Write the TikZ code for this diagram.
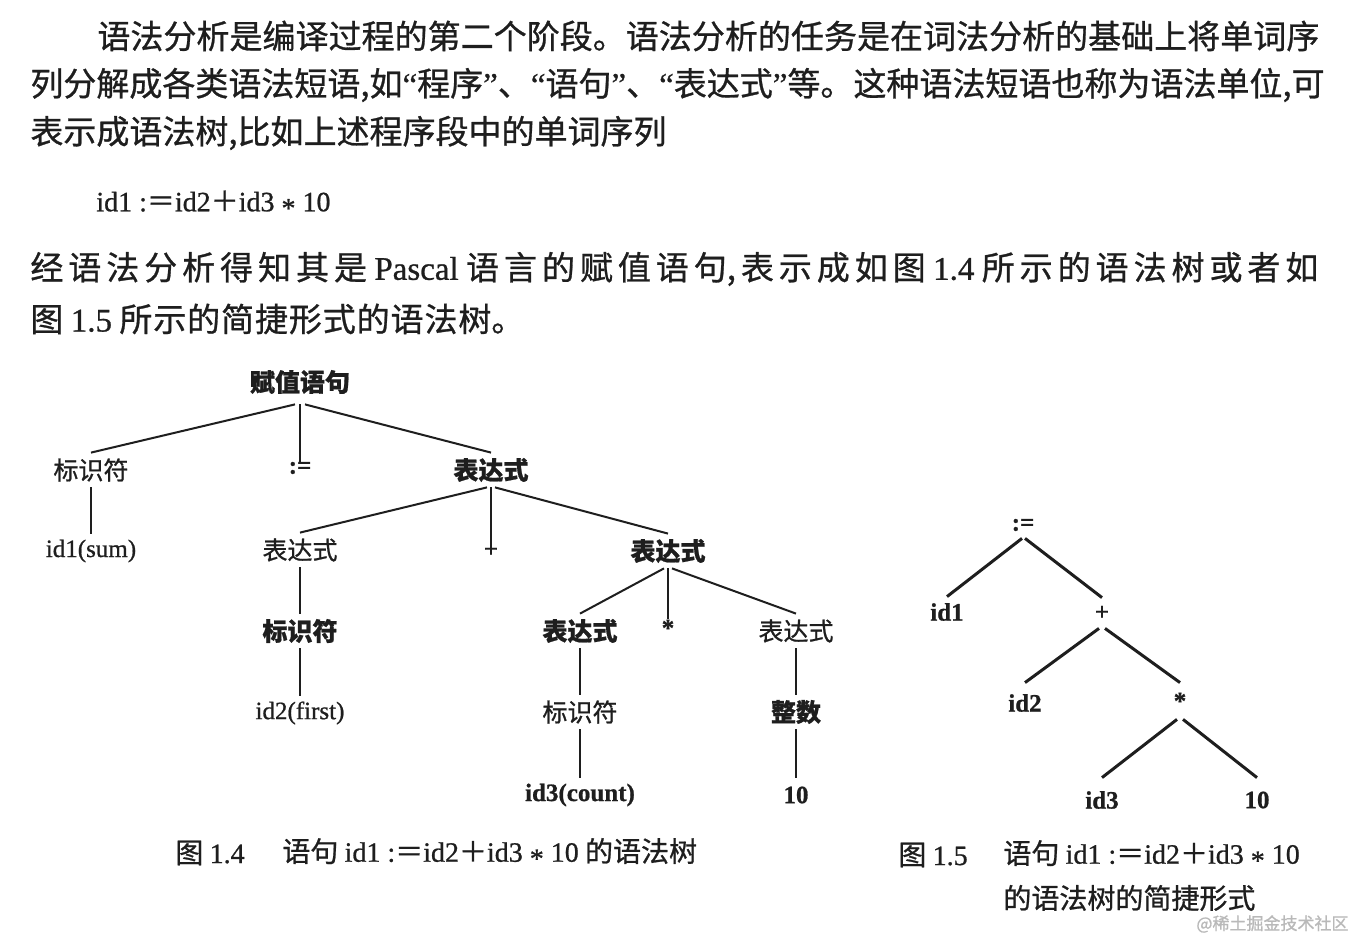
\documentclass[tikz,border=0pt]{standalone}
\usepackage{fontspec}
\setmainfont{Noto Sans CJK SC}[RawFeature={embolden=0.8}]
\newfontfamily\lat{Liberation Serif}[RawFeature={embolden=0.8}]
\definecolor{ink}{HTML}{1E1E1E}
\newcommand\jline[2]{\parbox{#1}{\XeTeXlinebreaklocale "zh"\XeTeXlinebreakskip=0pt plus 1fil\XeTeXlinebreakpenalty=10000\parfillskip=0pt\parindent=0pt\leftskip=0pt\rightskip=0pt #2}}
\newcommand\asgn{{\lat id1 :}＝{\lat id2}＋{\lat id3 \raisebox{-0.22em}{*} 10}}
\tikzset{
  body/.style={anchor=west,inner sep=0pt,text=ink,font=\fontsize{16.5}{20}\selectfont},
  tlab/.style={inner sep=0pt,text=ink,minimum height=17pt,font=\fontsize{12.5}{15}\selectfont},
  tlabb/.style={tlab,font=\fontsize{12.5}{15}\selectfont\bfseries},
  tlat/.style={tlab,font=\lat\fontsize{12.5}{15}\selectfont},
  tlatb/.style={tlab,font=\lat\bfseries\fontsize{12.5}{15}\selectfont},
  tops/.style={tlatb,minimum height=5pt},
  slab/.style={inner sep=0pt,text=ink,font=\lat\bfseries\fontsize{12.5}{14}\selectfont},
  edgea/.style={draw=ink,line width=1pt},
  edgeb/.style={draw=ink,line width=1.5pt},
  captxt/.style={anchor=west,inner sep=0pt,text=ink,font=\fontsize{14}{16}\selectfont},
}
\begin{document}
\begin{tikzpicture}[x=0.5pt,y=-0.5pt]
\fill[white] (0,0) rectangle (1355,935);
\useasboundingbox (0,0) rectangle (1355,935);

% body text
\node[body] (l1) at (97,36) {\jline{611pt}{语法分析是编译过程的第二个阶段。语法分析的任务是在词法分析的基础上将单词序}};
\node[body] (l2) at (30,85) {\jline{644pt}{列分解成各类语法短语,如{\lat “}程序{\lat ”}、{\lat “}语句{\lat ”}、{\lat “}表达式{\lat ”}等。这种语法短语也称为语法单位,可}};
\node[body] (l3) at (30,133) {表示成语法树,比如上述程序段中的单词序列};
\node[body,font=\fontsize{14}{16}\selectfont] (l4) at (96,204) {\asgn};
\node[body] (l5) at (30,269) {\jline{644pt}{经语法分析得知其是~{\lat Pascal}~语言的赋值语句,表示成如图~{\lat 1.4}~所示的语法树或者如}};
\node[body] (l6) at (30,319) {\jline{247pt}{图~{\lat 1.5}~所示的简捷形式的语法树。}};

% figure 1.4
\node[tlabb,minimum height=22pt] (fz) at (300,382) {赋值语句};
\node[tlab] (bs1) at (91,470) {标识符};
\node[tops] (as) at (300,468) {:=};
\node[tlabb] (bd1) at (491,470) {表达式};
\node[tlat] (id1) at (91,551) {id1(sum)};
\node[tlab] (bd2) at (300,550) {表达式};
\node[tops] (pl) at (491,550) {+};
\node[tlabb] (bd3) at (668,551) {表达式};
\node[tlabb] (bs2) at (300,631) {标识符};
\node[tlabb] (bd4) at (580,631) {表达式};
\node[tops] (ml) at (668,628) {*};
\node[tlab] (bd5) at (796,631) {表达式};
\node[tlat] (id2) at (300,713) {id2(first)};
\node[tlab] (bs3) at (580,712) {标识符};
\node[tlabb] (zs) at (796,712) {整数};
\node[tlatb] (id3) at (580,795) {id3(count)};
\node[tlatb] (ten) at (796,795) {10};

\draw[edgea] ([xshift=-2.5pt]fz.south) -- (bs1.north);
\draw[edgea] (fz.south) -- (as.north);
\draw[edgea] ([xshift=2.5pt]fz.south) -- (bd1.north);
\draw[edgea] (bs1.south) -- (id1.north);
\draw[edgea] ([xshift=-2pt]bd1.south) -- (bd2.north);
\draw[edgea] (bd1.south) -- (pl.north);
\draw[edgea] ([xshift=2pt]bd1.south) -- (bd3.north);
\draw[edgea] (bd2.south) -- (bs2.north);
\draw[edgea] (bs2.south) -- (id2.north);
\draw[edgea] ([xshift=-2pt]bd3.south) -- (bd4.north);
\draw[edgea] (bd3.south) -- (ml.north);
\draw[edgea] ([xshift=2pt]bd3.south) -- (bd5.north);
\draw[edgea] (bd4.south) -- (bs3.north);
\draw[edgea] (bs3.south) -- (id3.north);
\draw[edgea] (bd5.south) -- (zs.north);
\draw[edgea] (zs.south) -- (ten.north);

\node[captxt] (c14a) at (175,853) {图~{\lat 1.4}};
\node[captxt] (c14b) at (282,853) {语句~\asgn~的语法树};

% figure 1.5
\node[slab,minimum height=13pt] (a) at (1023,525) {:=};
\node[slab,minimum height=15pt] (b1) at (947,612) {id1};
\node[slab,minimum height=15pt] (b2) at (1102,613) {+};
\node[slab,minimum height=20pt] (c1) at (1025,703) {id2};
\node[slab,minimum height=18pt] (c2) at (1180,701) {*};
\node[slab,minimum height=22pt] (d1) at (1102,800) {id3};
\node[slab,minimum height=22pt] (d2) at (1257,800) {10};

\draw[edgeb] ([xshift=-0.5pt]a.south) -- (b1.north);
\draw[edgeb] ([xshift=1pt]a.south) -- (b2.north);
\draw[edgeb] ([xshift=-1.5pt]b2.south) -- (c1.north);
\draw[edgeb] ([xshift=1.5pt]b2.south) -- (c2.north);
\draw[edgeb] ([xshift=-1.5pt]c2.south) -- (d1.north);
\draw[edgeb] ([xshift=1.5pt]c2.south) -- (d2.north);

\node[captxt] (c15a) at (898,855) {图~{\lat 1.5}};
\node[captxt] (c15b) at (1003,855) {语句~\asgn};
\node[captxt] (c15c) at (1003,898) {的语法树的简捷形式};

\node[anchor=west,inner sep=0pt,text=gray!55,font=\fontsize{8.5}{10}\selectfont] (wm) at (1196,924) {@稀土掘金技术社区};
\end{tikzpicture}
\end{document}
